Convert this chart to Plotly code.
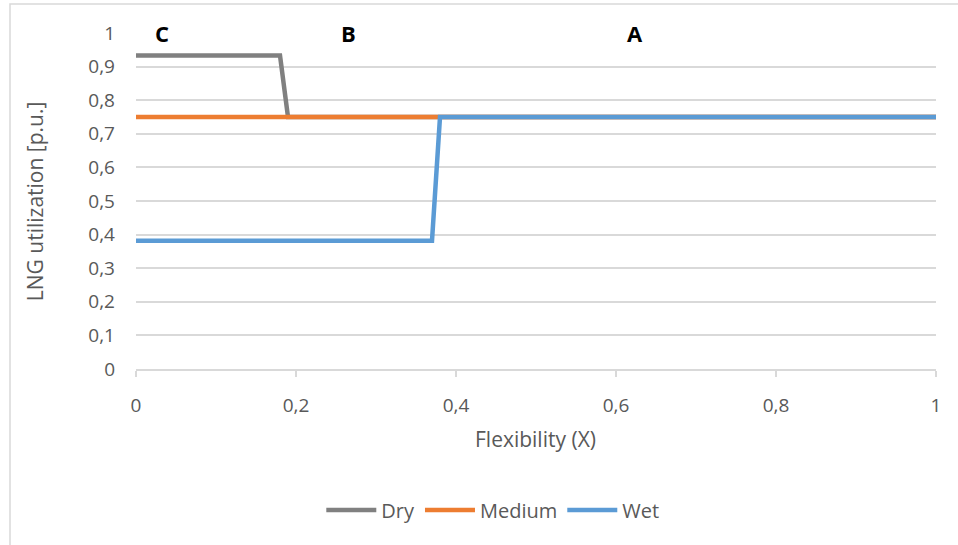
import plotly.graph_objects as go

# Data
dry_x = [0, 0.18, 0.19, 1]
dry_y = [0.933, 0.933, 0.75, 0.75]
medium_x = [0, 1]
medium_y = [0.75, 0.75]
wet_x = [0, 0.37, 0.38, 1]
wet_y = [0.382, 0.382, 0.75, 0.75]

zone_labels = ["C", "B", "A"]
zone_x = [0.033, 0.266, 0.624]
zone_y = [1.0, 1.0, 1.0]

x_title = "Flexibility (X)"
y_title = "LNG utilization [p.u.]"

FONT = "Open Sans"
GRID = "#d9d9d9"
TXT = "#595959"

fig = go.Figure()
fig.add_trace(go.Scatter(x=dry_x, y=dry_y, mode="lines", name="Dry",
                         line=dict(color="#808080", width=4.5)))
fig.add_trace(go.Scatter(x=medium_x, y=medium_y, mode="lines", name="Medium",
                         line=dict(color="#ed7d31", width=4.5)))
fig.add_trace(go.Scatter(x=wet_x, y=wet_y, mode="lines", name="Wet",
                         line=dict(color="#5b9bd5", width=4.5)))

for t, x, y in zip(zone_labels, zone_x, zone_y):
    fig.add_annotation(x=x, y=y, text="<b>%s</b>" % t, showarrow=False,
                       font=dict(family=FONT, size=22, color="black"),
                       xanchor="center", yanchor="middle")

fig.add_annotation(xref="paper", yref="paper", x=0.499, y=-0.208, text=x_title,
                   showarrow=False, xanchor="center", yanchor="middle",
                   font=dict(family=FONT, size=21, color=TXT))
fig.add_annotation(xref="paper", yref="paper", x=-0.126, y=0.5, text=y_title,
                   showarrow=False, xanchor="center", yanchor="middle", textangle=-90,
                   font=dict(family=FONT, size=21, color=TXT))

# chart border
fig.add_shape(type="rect", xref="paper", yref="paper",
              x0=-0.1575, x1=1.04, y0=-0.6, y1=1.0863,
              line=dict(color=GRID, width=1.5), layer="below")

fig.update_layout(
    width=958, height=545,
    margin=dict(l=136, r=22, t=33, b=176),
    paper_bgcolor="white", plot_bgcolor="white",
    separators=", ",
    font=dict(family=FONT, size=18, color=TXT),
    showlegend=True,
    legend=dict(orientation="h", x=0.446, xanchor="center", y=-0.42, yanchor="middle",
                font=dict(family=FONT, size=20, color=TXT), itemwidth=50),
    xaxis=dict(range=[0, 1], dtick=0.2, tick0=0, showgrid=False, zeroline=False,
               showline=True, linecolor=GRID, linewidth=1.5,
               ticks="outside", ticklen=6, tickcolor=GRID, tickwidth=1.5,
               ticklabelstandoff=12,
               tickfont=dict(size=19, color=TXT)),
    yaxis=dict(range=[0, 1], dtick=0.1, tick0=0, showgrid=True, gridcolor=GRID, gridwidth=1.5,
               zeroline=False, showline=False, ticks="", ticklabelstandoff=20,
               tickfont=dict(size=19, color=TXT)),
)

fig.write_html("out.html")
